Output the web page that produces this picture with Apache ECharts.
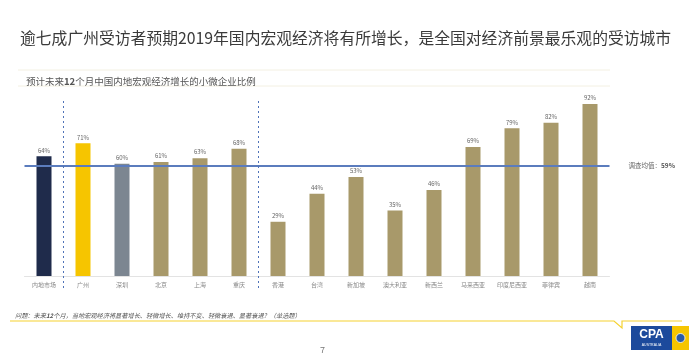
<!DOCTYPE html>
<html>
<head>
<meta charset="utf-8">
<script src="https://cdn.jsdelivr.net/npm/echarts@6/dist/echarts.min.js"></script>
<style>
  html, body { margin: 0; padding: 0; background: #fff; }
  #chart { width: 699px; height: 353px; }
</style>
</head>
<body>
<div id="chart"></div>
<script>
// 城市分类
const cities = ['内地市场', '广州', '深圳', '北京', '上海', '重庆', '香港', '台湾', '新加坡', '澳大利亚', '新西兰', '马来西亚', '印度尼西亚', '菲律宾', '越南']
// 预计增长比例（%）
const shares = [64, 71, 60, 61, 63, 68, 29, 44, 53, 35, 46, 69, 79, 82, 92]
// 调查均值
const surveyAvg = 59
// 分组分隔线位置（类别边界）
const dividers = [1, 6]

const barColors = ['#1f2b4b', '#f6c500', '#7c8691']
const defaultBar = '#a8996a'
const font = '"Noto Sans CJK SC", "Noto Sans", sans-serif'

const chart = echarts.init(document.getElementById('chart'))

const option = {
  animation: false,
  textStyle: { fontFamily: font },
  title: [
    {
      text: '逾七成广州受访者预期2019年国内宏观经济将有所增长，是全国对经济前景最乐观的受访城市',
      left: 15, top: 25,
      textStyle: { fontSize: 15.8, fontWeight: 'normal', color: '#3a3a3a', fontFamily: font }
    },
    {
      text: '预计未来{b|12}个月中国内地宏观经济增长的小微企业比例',
      left: 21, top: 72,
      textStyle: {
        fontSize: 9.5, fontWeight: 'normal', color: '#555', fontFamily: font,
        rich: { b: { fontSize: 9.5, fontWeight: 'bold', color: '#555' } }
      }
    },
    {
      text: '问题：未来{b|12}个月，当地宏观经济将显著增长、轻微增长、维持不变、轻微衰退、显著衰退？（单选题）',
      left: 10, top: 308,
      textStyle: {
        fontSize: 6.2, fontStyle: 'italic', fontWeight: 'normal', color: '#555', fontFamily: font,
        rich: { b: { fontSize: 6.2, fontStyle: 'italic', fontWeight: 'bold', color: '#555' } }
      }
    },
    {
      text: '7',
      left: 315, top: 341,
      textStyle: { fontSize: 9, fontWeight: 'normal', color: '#777', fontFamily: font }
    }
  ],
  grid: [
    { left: 24.5, width: 585, top: 89, bottom: 77 },
    { left: 24.5, width: 585, top: 99, bottom: 65 }
  ],
  xAxis: [
    {
      type: 'category',
      data: cities,
      gridIndex: 0,
      axisLine: { lineStyle: { color: '#e3e3e3' } },
      axisTick: { show: false },
      axisLabel: { fontSize: 6, color: '#888', margin: 6, interval: 0 }
    },
    {
      type: 'value',
      gridIndex: 1,
      min: 0,
      max: 15,
      show: false
    }
  ],
  yAxis: [
    { type: 'value', gridIndex: 0, min: 0, max: 100, show: false },
    { type: 'value', gridIndex: 1, min: 0, max: 1, show: false }
  ],
  series: [
    {
      type: 'bar',
      data: shares.map((v, i) => ({
        value: v,
        itemStyle: { color: barColors[i] || defaultBar }
      })),
      barWidth: 15,
      label: {
        show: true,
        position: 'top',
        distance: 3,
        fontSize: 6,
        color: '#666',
        formatter: '{c}%'
      },
      markLine: {
        silent: true,
        symbol: 'none',
        lineStyle: { color: '#5b7cbd', width: 2, type: 'solid' },
        label: {
          position: 'end',
          distance: 19,
          fontSize: 6.5,
          color: '#666',
          formatter: '调查均值：{b|' + surveyAvg + '%}',
          rich: { b: { fontSize: 6.5, fontWeight: 'bold', color: '#555' } }
        },
        data: [{ yAxis: surveyAvg }]
      }
    },
    {
      type: 'line',
      xAxisIndex: 1,
      yAxisIndex: 1,
      data: [],
      markLine: {
        silent: true,
        symbol: 'none',
        lineStyle: { color: '#4f72b8', width: 1, type: [2, 3] },
        label: { show: false },
        data: dividers.map(d => ({ xAxis: d }))
      }
    }
  ],
  graphic: [
    // 副标题上下的浅色线
    { type: 'line', shape: { x1: 18, y1: 70, x2: 610, y2: 70 }, style: { stroke: '#f3f0e2', lineWidth: 1 } },
    { type: 'line', shape: { x1: 18, y1: 86, x2: 610, y2: 86 }, style: { stroke: '#f3f0e2', lineWidth: 1 } },
    // 底部黄色对话框线
    {
      type: 'polyline',
      shape: { points: [[10, 321], [614, 321], [622, 328], [622, 321], [682, 321]] },
      style: { stroke: '#f5d230', lineWidth: 1.2, fill: null }
    },
    // CPA 标志
    {
      type: 'group',
      left: 631, top: 326,
      children: [
        { type: 'rect', shape: { x: 0, y: 0, width: 41, height: 24 }, style: { fill: '#1c4a9c' } },
        { type: 'rect', shape: { x: 41, y: 0, width: 17, height: 24 }, style: { fill: '#f6c500' } },
        { type: 'text', x: 20.5, y: 3, style: { text: 'CPA', fontSize: 12, fontWeight: 'bold', fill: '#fff', align: 'center', fontFamily: 'Liberation Sans, Arial, sans-serif' } },
        { type: 'text', x: 20.5, y: 17, style: { text: 'AUSTRALIA', fontSize: 3.5, fill: '#fff', align: 'center', fontFamily: 'Liberation Sans, Arial, sans-serif' } },
        { type: 'circle', shape: { cx: 49.5, cy: 12, r: 4.5 }, style: { fill: '#2a5aa8', stroke: '#fff', lineWidth: 0.8 } }
      ]
    }
  ]
}

chart.setOption(option)
</script>
</body>
</html>
